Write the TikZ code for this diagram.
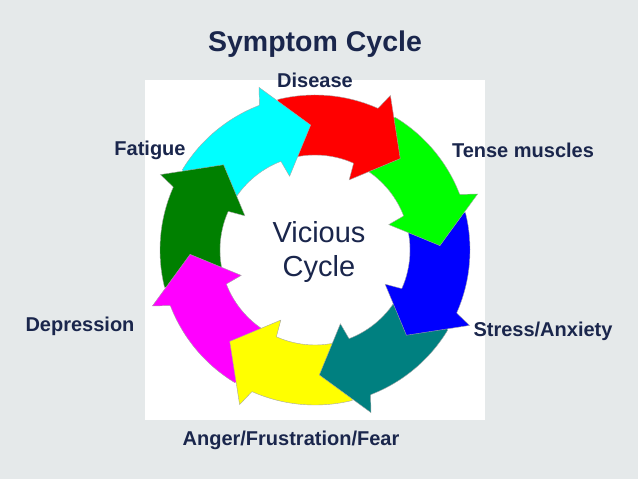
\documentclass[tikz,border=0pt]{standalone}
\usepackage{fontspec}
\setmainfont{Liberation Sans}
\definecolor{bg}{RGB}{229,233,234}
\definecolor{cR}{RGB}{255,0,0}\definecolor{cG}{RGB}{0,255,0}\definecolor{cB}{RGB}{0,0,255}
\definecolor{cT}{RGB}{0,128,128}\definecolor{cY}{RGB}{255,255,0}\definecolor{cM}{RGB}{255,0,255}
\definecolor{cD}{RGB}{0,128,0}\definecolor{cC}{RGB}{0,255,255}
\definecolor{navy}{RGB}{26,38,76}
\begin{document}
\begin{tikzpicture}[x=1pt,y=1pt,
  lab/.style={font=\bfseries\fontsize{20}{23}\selectfont,text=navy},
  seg/.style={draw=gray!70,line width=0.4pt}]
\fill[bg] (0,0) rectangle (638,479);
\useasboundingbox (0,0) rectangle (638,479);
\fill[white] (145,59) rectangle (485,399);
\def\ro{155pt}\def\ri{95pt}
\begin{scope}[shift={(315,229)}]
\foreach \c [count=\i from 0] in {cR,cG,cB,cT,cY,cM,cD,cC}{
  \pgfmathsetmacro\t{79-45*\i}
  \pgfmathsetmacro\a{\t+25}\pgfmathsetmacro\b{\t-15}
  \fill[\c] (\a:\ro) arc[start angle=\a,end angle=\b,radius=\ro] -- (\b:\ri) arc[start angle=\b,end angle=\a,radius=\ri] -- cycle;
  \draw[seg] (\a:\ro) arc[start angle=\a,end angle=\b,radius=\ro];
  \draw[seg] (\a:\ri) arc[start angle=\a,end angle=\b,radius=\ri];
}
\foreach \c [count=\i from 0] in {cR,cG,cB,cT,cY,cM,cD,cC}{
  \pgfmathsetmacro\t{79-45*\i}
  \pgfmathsetmacro\b{\t-15}\pgfmathsetmacro\e{\t-32}\pgfmathsetmacro\bb{\t-13}
  \filldraw[fill=\c,draw=gray!70,line width=0.4pt] (\bb:\ro) -- (\b:172pt) -- (\e:125pt) -- (\b:78pt) -- (\bb:\ri);
  \fill[\c] (\bb:\ro) -- (\b:\ro) -- (\b:\ri) -- (\bb:\ri) -- cycle;
}
\node[font=\fontsize{29}{34}\selectfont,text=navy,align=center] (vc) at (4,-2) {Vicious\\Cycle};
\end{scope}
\node[font=\bfseries\fontsize{28.5}{32}\selectfont,text=navy] (title) at (315,435) {Symptom Cycle};
\node[lab] (d) at (315,399) {Disease};
\node[lab] (t) at (523,329) {Tense muscles};
\node[lab] (s) at (543,148) {Stress/Anxiety};
\node[lab] (a) at (291,39) {Anger/Frustration/Fear};
\node[lab] (p) at (80,153) {Depression};
\node[lab] (f) at (150,329) {Fatigue};
\end{tikzpicture}
\end{document}
